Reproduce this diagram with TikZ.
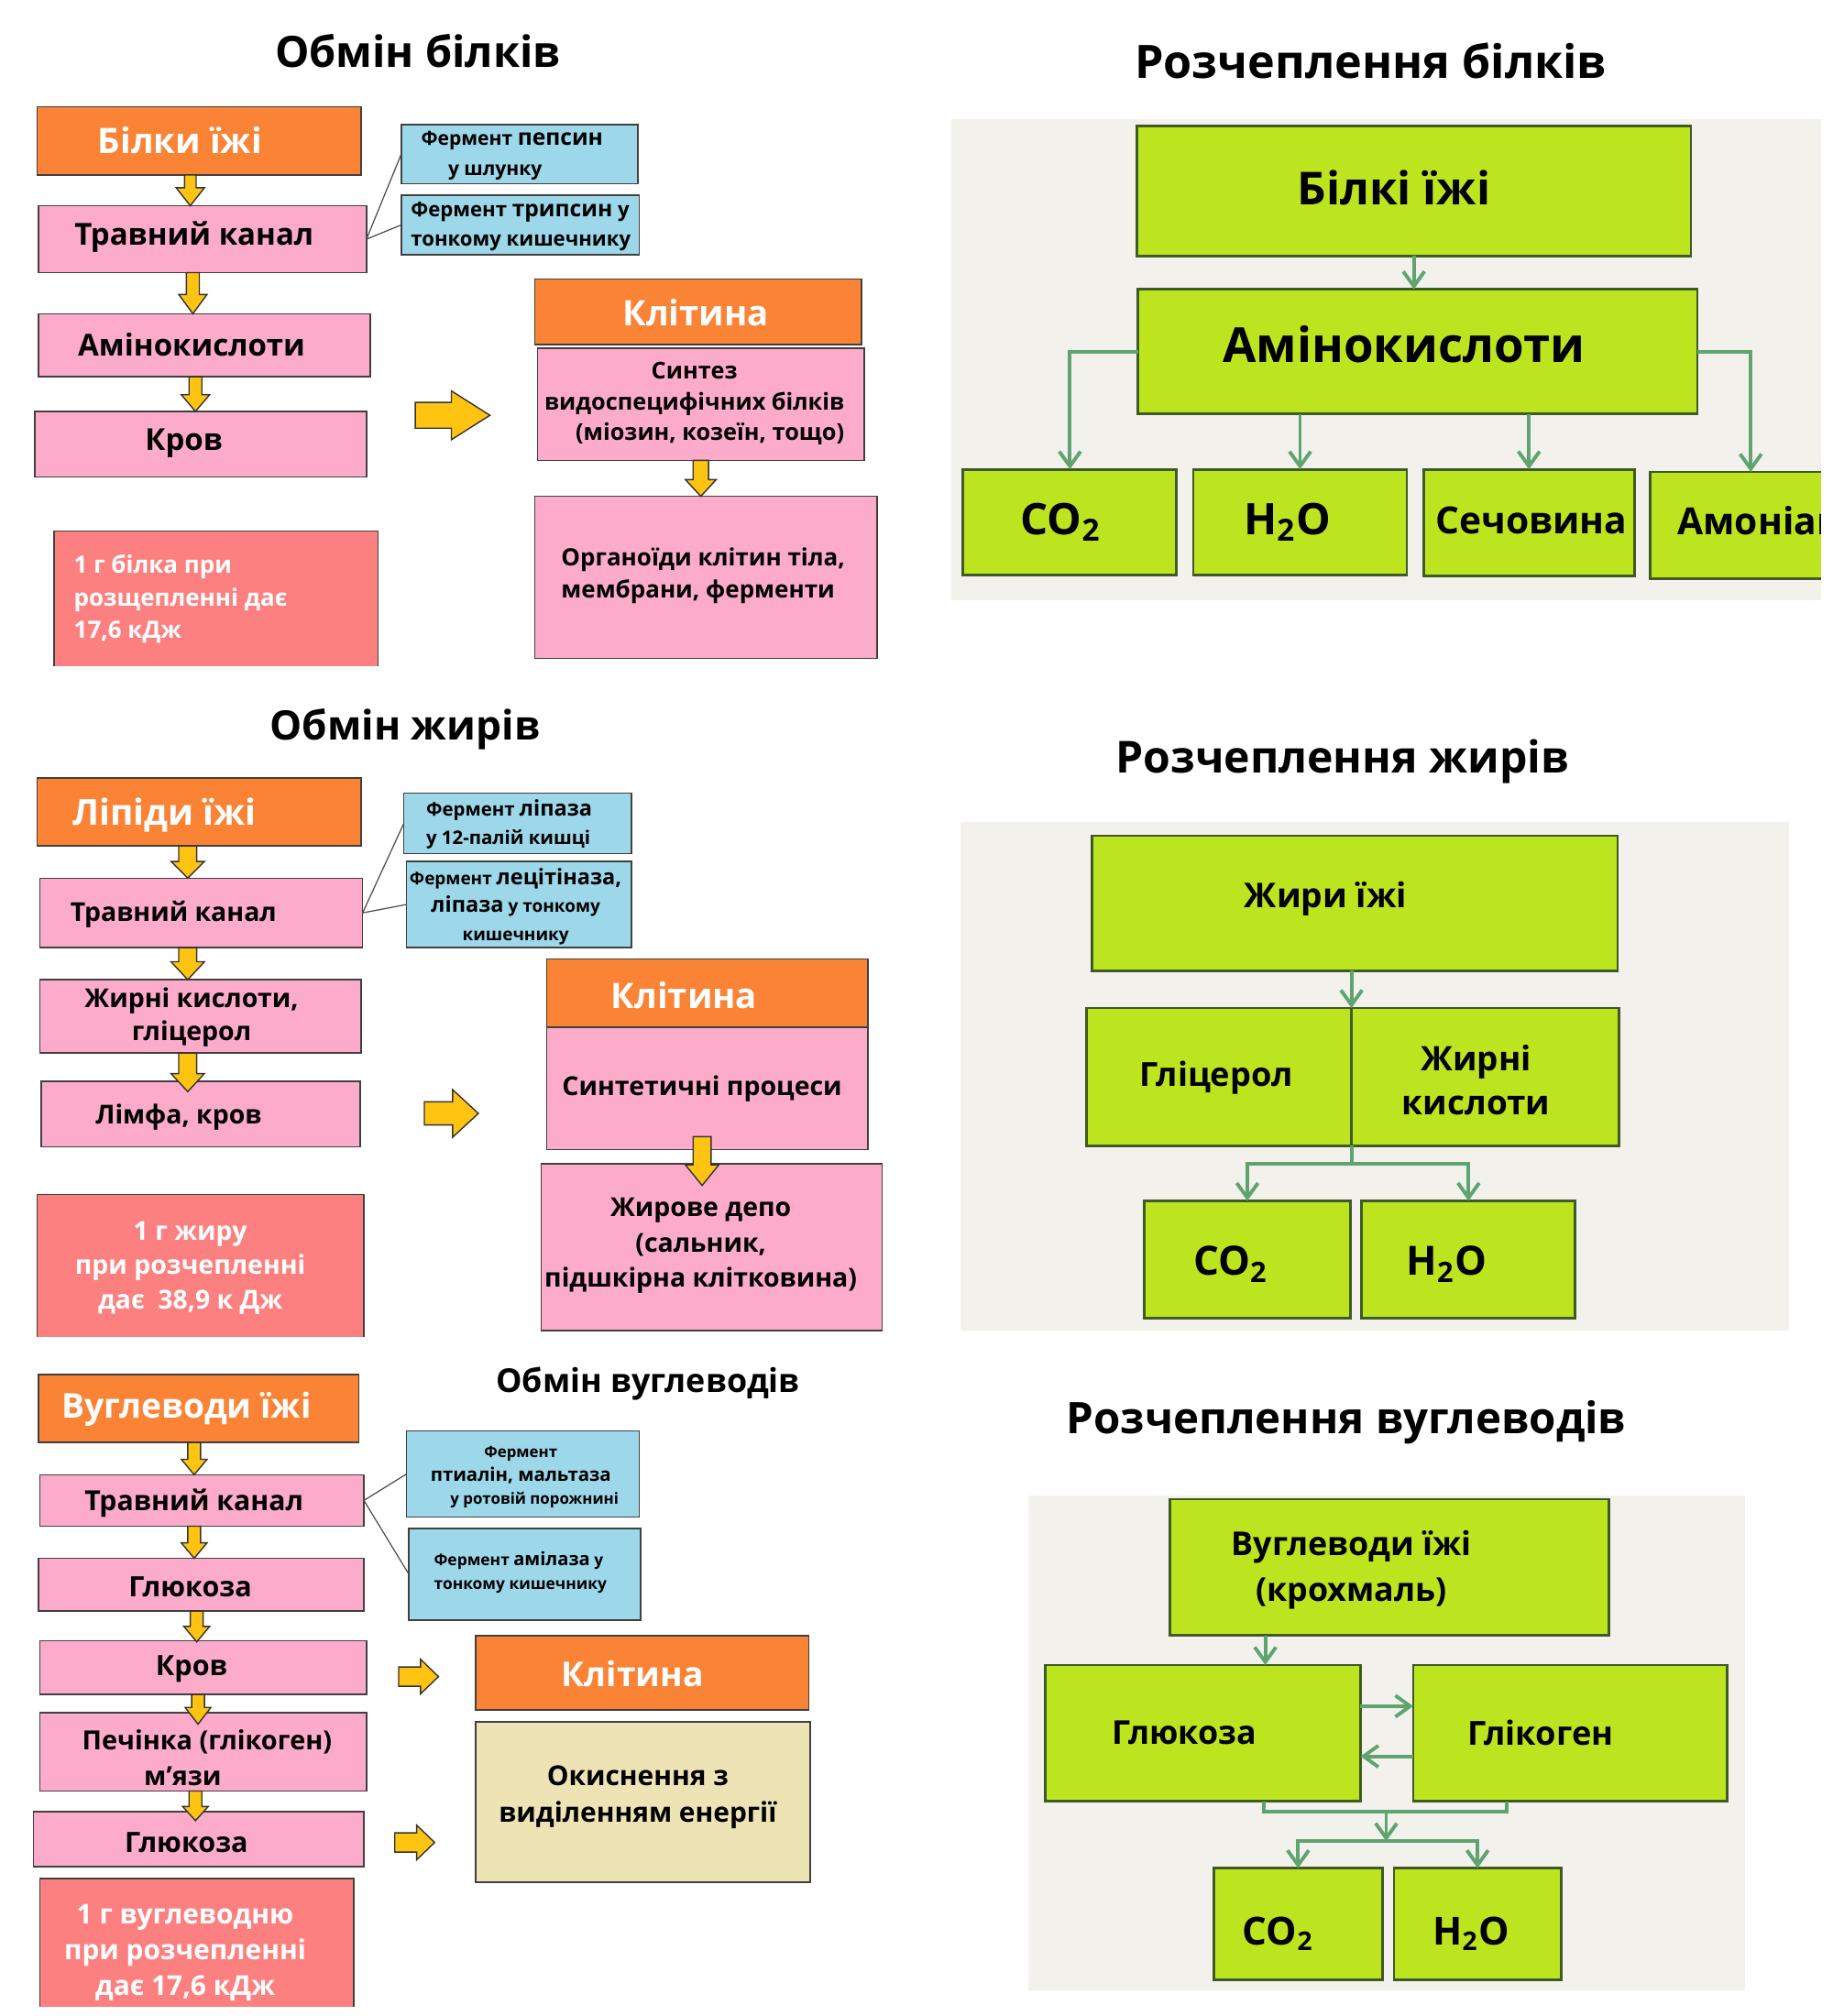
\documentclass[tikz,border=0pt]{standalone}
\usepackage{fontspec}
\setmainfont{Open Sans}
\usetikzlibrary{arrows.meta,calc}

\definecolor{orangeC}{HTML}{FB8336}
\definecolor{pinkC}{HTML}{FDABCA}
\definecolor{blueC}{HTML}{9CD8EA}
\definecolor{salmonC}{HTML}{FD8080}
\definecolor{beigeC}{HTML}{EEE3B4}
\definecolor{yelC}{HTML}{FFC312}
\definecolor{grnC}{HTML}{BDE51F}
\definecolor{grnLine}{HTML}{5FA470}
\definecolor{grnEdge}{HTML}{3F5A24}
\definecolor{panelC}{HTML}{F2F1EC}

\newcommand{\pxl}{0.14035mm}
\newcommand{\fsz}[2]{\bfseries\fontsize{#1pt}{#2pt}\selectfont}
\newcommand{\hl}[2]{{\fontsize{#1pt}{\baselineskip}\selectfont #2}}
% box from its corners
\newcommand{\bx}[6]{\node[#1, minimum width={(#5-#3)*\pxl}, minimum height={(#6-#4)*\pxl}] (#2) at ({(#3+#5)/2},{(#4+#6)/2}) {};}
% yellow block arrows: start, shaft, head, shaft half, head half
\newcommand{\blkdown}[5]{\filldraw[yblk] #1 ++(-#4,0) -- ++(0,#2) -- ++({#4-#5},0) -- ++(#5,#3) -- ++(#5,-#3) -- ++({#4-#5},0) -- ++(0,-#2) -- cycle;}
\newcommand{\blkright}[5]{\filldraw[yblk] #1 ++(0,-#4) -- ++(#2,0) -- ++(0,{#4-#5}) -- ++(#3,#5) -- ++(-#3,#5) -- ++(0,{#4-#5}) -- ++(-#2,0) -- cycle;}

\tikzset{
  box/.style={draw=black!75, line width=0.45pt, inner sep=0pt, outer sep=0pt},
  obox/.style={box, fill=orangeC},
  pbox/.style={box, fill=pinkC},
  bbox/.style={box, fill=blueC},
  ybox/.style={box, fill=beigeC},
  rbox/.style={fill=salmonC, inner sep=0pt, outer sep=0pt},
  gbox/.style={draw=grnEdge, line width=0.8pt, fill=grnC, inner sep=0pt, outer sep=0pt},
  txt/.style={inner sep=0pt},
  edge3/.style={draw=black!75, line width=0.45pt},
  yblk/.style={fill=yelC, draw=black!80, line width=0.4pt},
  lnk/.style={draw=black!70, line width=0.35pt},
  gln/.style={draw=grnLine, line width=1.1pt},
  garr/.style={gln, -{Straight Barb[length=4.6pt,width=6.6pt]}}
}

\begin{document}
\begin{tikzpicture}[x=0.14035mm,y=-0.14035mm]
  \useasboundingbox (0,0) rectangle (1425,1568);

  % ---------- Обмін білків
  \node[txt, font=\fsz{13.4}{16}] (ttl1) at (325,40) {Обмін білків};
  \bx{obox}{bilky}{29}{83}{281}{136}
  \bx{pbox}{trav1}{30}{160}{285}{212}
  \bx{pbox}{amino1}{30}{244}{288}{293}
  \bx{pbox}{krov1}{27}{320}{285}{371}
  \node[txt, white, font=\fsz{10.9}{13}] (bilky-t) at (140,109) {Білки їжі};
  \node[txt, font=\fsz{9.4}{11}] (trav1-t) at (151,184) {Травний канал};
  \node[txt, font=\fsz{9.4}{11}] (amino1-t) at (149,268) {Амінокислоти};
  \node[txt, font=\fsz{9.4}{11}] (krov1-t) at (143,345) {Кров};
  \blkdown{(bilky.south -| 148,0)}{10}{14}{4.5}{11}
  \blkdown{(trav1.south -| 150,0)}{17}{15}{5}{11}
  \blkdown{(amino1.south -| 152,0)}{14}{13}{5}{11}

  \bx{bbox}{pep}{312}{97}{496}{143}
  \bx{bbox}{tryp}{312}{152}{497}{198}
  \node[txt, anchor=west, align=left, font=\fsz{6}{9.2}] (pep-t) at (327,121)
    {Фермент \hl{7}{пепсин}\\\hspace*{2.95mm}у шлунку};
  \node[txt, anchor=west, align=left, font=\fsz{6.3}{9.2}] (tryp-t) at (319,176)
    {Фермент \hl{7}{трипсин} у\\тонкому кишечнику};
  \draw[lnk] (trav1.east) -- (pep.west);
  \draw[lnk] (trav1.east) -- (tryp.west);

  \coordinate (ar1) at (323,323);
  \blkright{(ar1)}{28}{30}{10}{19}

  \bx{obox}{cell1}{416}{217}{670}{268}
  \bx{pbox}{synt1}{418}{271}{672}{358}
  \bx{pbox}{org1}{416}{386}{682}{512}
  \node[txt, white, font=\fsz{10.9}{13}] (cell1-t) at (541,243) {Клітина};
  \node[txt, align=center, font=\fsz{7.2}{9.6}] (synt1-t) at (540,314)
    {Синтез\\видоспецифічних білків\\\hspace*{3.4mm}(міозин, козеїн, тощо)};
  \blkdown{(synt1.south -| 545,0)}{15}{13}{6}{12}
  \node[txt, anchor=west, align=left, font=\fsz{7.4}{10}] (org1-t) at (436,448)
    {Органоїди клітин тіла,\\мембрани, ферменти};

  \bx{rbox}{kj1}{42}{413}{294}{518}
  \draw[edge3] (kj1.south west) -- (kj1.north west) -- (kj1.north east) -- (kj1.south east);
  \node[txt, white, anchor=west, align=left, font=\fsz{7.4}{10.1}] (kj1-t) at (57,466)
    {1 г білка при\\розщепленні дає\\17,6 кДж};

  % ---------- Розчеплення білків
  \begin{scope}
    \clip (0,0) rectangle (1416,1568);
    \fill[panelC] (740,93) rectangle (1425,467);
    \node[txt, font=\fsz{14.3}{17}] (ttl2) at (1066,47) {Розчеплення білків};
    \bx{gbox}{gbil}{884}{98}{1315}{199}
    \bx{gbox}{gami}{885}{225}{1320}{322}
    \bx{gbox}{gco}{749}{365}{915}{447}
    \bx{gbox}{gho}{928}{365}{1094}{447}
    \bx{gbox}{gsech}{1107}{365}{1271}{448}
    \bx{gbox}{gamon}{1283}{367}{1440}{450}
    \node[txt, font=\fsz{14.1}{17}] (gbil-t) at (1084,146) {Білкі їжі};
    \node[txt, font=\fsz{15}{18}] (gami-t) at (1092,268) {Амінокислоти};
    \node[txt, font=\fsz{13.5}{16}] (gco-t) at (825,406) {CO\textsubscript{2}};
    \node[txt, font=\fsz{13.5}{16}] (gho-t) at (1001,406) {H\textsubscript{2}O};
    \node[txt, font=\fsz{11.6}{14}] (gsech-t) at (1191,405) {Сечовина};
    \node[txt, anchor=west, font=\fsz{11.6}{14}] (gamon-t) at (1304,405) {Амоніак};
    \draw[garr] (gbil.south) -- (gbil.south |- gami.north);
    \draw[garr] (gami.west) -| (gco.north);
    \draw[garr] (gami.east) -| (gamon.north);
    \draw[garr] (gho.north |- gami.south) -- (gho.north);
    \draw[garr] (gsech.north |- gami.south) -- (gsech.north);
  \end{scope}

  % ---------- Обмін жирів
  \node[txt, font=\fsz{12.6}{15}] (ttl3) at (315,567) {Обмін жирів};
  \bx{obox}{lip}{29}{605}{281}{658}
  \bx{pbox}{trav2}{31}{683}{282}{737}
  \bx{pbox}{fat2}{31}{762}{281}{819}
  \bx{pbox}{lymf}{32}{841}{280}{892}
  \node[txt, white, font=\fsz{11.1}{13}] (lip-t) at (128,634) {Ліпіди їжі};
  \node[txt, font=\fsz{8.1}{10}] (trav2-t) at (135,711) {Травний канал};
  \node[txt, align=center, font=\fsz{8.1}{10.3}] (fat2-t) at (149,791) {Жирні кислоти,\\гліцерол};
  \node[txt, font=\fsz{8.1}{10}] (lymf-t) at (139,869) {Лімфа, кров};
  \blkdown{(lip.south -| 146,0)}{12}{13}{7}{13}
  \blkdown{(trav2.south -| 146,0)}{11}{14}{7}{13}
  \blkdown{(fat2.south -| 146,0)}{16}{14}{7}{13}

  \bx{bbox}{lipaz}{314}{617}{491}{664}
  \bx{bbox}{lecit}{316}{670}{491}{737}
  \node[txt, anchor=west, align=left, font=\fsz{5.8}{8.8}] (lipaz-t) at (331,641)
    {Фермент \hl{6.7}{ліпаза}\\у 12-палій кишці};
  \node[txt, align=center, font=\fsz{5.4}{8.6}] (lecit-t) at (401,705)
    {Фермент \hl{6.7}{лецітіназа,}\\\hl{6.7}{ліпаза} у тонкому\\кишечнику};
  \draw[lnk] (trav2.east) -- (lipaz.west);
  \draw[lnk] (trav2.east) -- (lecit.west);

  \coordinate (ar2) at (330,866);
  \blkright{(ar2)}{22}{20}{9}{18.5}

  \bx{obox}{cell2}{425}{746}{675}{799}
  \bx{pbox}{synt2}{425}{799}{675}{894}
  \bx{pbox}{depo}{421}{905}{686}{1035}
  \node[txt, white, font=\fsz{10.9}{13}] (cell2-t) at (532,774) {Клітина};
  \node[txt, font=\fsz{8.1}{10}] (synt2-t) at (546,847) {Синтетичні процеси};
  \coordinate (ad2) at (546,884);
  \blkdown{(ad2)}{22}{16}{7}{13}
  \node[txt, align=center, font=\fsz{8.1}{11}] (depo-t) at (545,969)
    {Жирове депо\\(сальник,\\підшкірна клітковина)};

  \bx{rbox}{kj2}{29}{929}{283}{1040}
  \draw[edge3] (kj2.south west) -- (kj2.north west) -- (kj2.north east) -- (kj2.south east);
  \node[txt, white, align=center, font=\fsz{8.1}{10.7}] (kj2-t) at (148,986)
    {1 г жиру\\при розчепленні\\дає\enspace 38,9 к Дж};

  % ---------- Розчеплення жирів
  \fill[panelC] (747,639) rectangle (1391,1035);
  \node[txt, font=\fsz{13.7}{16}] (ttl4) at (1044,592) {Розчеплення жирів};
  \bx{gbox}{gzhy}{849}{650}{1258}{755}
  \bx{gbox}{ggli}{845}{784}{1051}{891}
  \bx{gbox}{gkys}{1051}{784}{1259}{891}
  \bx{gbox}{gco2}{890}{934}{1050}{1025}
  \bx{gbox}{gho2}{1059}{934}{1225}{1025}
  \node[txt, font=\fsz{10.6}{13}] (gzhy-t) at (1031,699) {Жири їжі};
  \node[txt, font=\fsz{10.3}{13}] (ggli-t) at (946,838) {Гліцерол};
  \node[txt, align=center, font=\fsz{10.5}{13.9}] (gkys-t) at (1148,840) {Жирні\\кислоти};
  \node[txt, font=\fsz{12.5}{15}] (gco2-t) at (957,983) {CO\textsubscript{2}};
  \node[txt, font=\fsz{12.5}{15}] (gho2-t) at (1125,983) {H\textsubscript{2}O};
  \draw[garr] (gzhy.south -| ggli.east) -- (ggli.north east);
  \coordinate (jn2) at (1051,905);
  \draw[gln] (ggli.south east) -- (jn2);
  \draw[garr] (jn2) -| (gco2.north);
  \draw[garr] (jn2) -| (gho2.north);

  % ---------- Обмін вуглеводів
  \node[txt, font=\fsz{10.2}{12}] (ttl5) at (504,1076) {Обмін вуглеводів};
  \bx{obox}{vug}{30}{1069}{279}{1122}
  \bx{pbox}{trav3}{31}{1147}{283}{1187}
  \bx{pbox}{glu3}{30}{1212}{283}{1253}
  \bx{pbox}{krov3}{31}{1276}{285}{1318}
  \bx{pbox}{pech}{31}{1332}{285}{1393}
  \bx{pbox}{glu3b}{26}{1409}{283}{1452}
  \node[txt, white, font=\fsz{10.6}{13}] (vug-t) at (145,1096) {Вуглеводи їжі};
  \node[txt, font=\fsz{8.6}{10}] (trav3-t) at (151,1169) {Травний канал};
  \node[txt, font=\fsz{8.7}{10}] (glu3-t) at (148,1234) {Глюкоза};
  \node[txt, font=\fsz{8.7}{10}] (krov3-t) at (149,1298) {Кров};
  \node[txt, align=center, font=\fsz{8.2}{11.1}] (pech-t) at (161,1367)
    {Печінка (глікоген)\\\hspace*{-5.3mm}м\symbol{39}язи};
  \node[txt, font=\fsz{8.7}{10}] (glu3b-t) at (145,1433) {Глюкоза};
  \blkdown{(vug.south -| 151,0)}{13}{12}{5}{10}
  \blkdown{(trav3.south -| 151,0)}{13}{12}{5}{10}
  \blkdown{(glu3.south -| 153,0)}{12}{12}{5}{10}
  \blkdown{(krov3.south -| 154,0)}{10}{13}{5}{10}
  \blkdown{(pech.south -| 152,0)}{12}{11}{5}{10}

  \bx{bbox}{ptial}{316}{1113}{497}{1180}
  \bx{bbox}{amil}{318}{1189}{498}{1260}
  \node[txt, align=center, font=\fsz{4.8}{7.2}] (ptial-t) at (405,1149)
    {Фермент\\\hl{5.8}{птиалін, мальтаза}\\\hspace*{3mm}у ротовій порожнині};
  \node[txt, anchor=west, align=left, font=\fsz{4.95}{7.6}] (amil-t) at (337,1223)
    {Фермент \hl{5.7}{амілаза} у\\тонкому кишечнику};
  \draw[lnk] (trav3.east) -- (ptial.west);
  \draw[lnk] (trav3.east) -- (amil.west);

  \coordinate (ar3a) at (310,1304);
  \coordinate (ar3b) at (307,1433);
  \blkright{(ar3a)}{17}{14}{7.5}{13.5}
  \blkright{(ar3b)}{17}{14}{7.5}{13.5}

  \bx{obox}{cell3}{370}{1272}{629}{1330}
  \bx{ybox}{okys}{370}{1339}{630}{1464}
  \node[txt, white, font=\fsz{10.6}{13}] (cell3-t) at (492,1302) {Клітина};
  \node[txt, align=center, font=\fsz{8.5}{11.5}] (okys-t) at (496,1398)
    {Окиснення з\\виділенням енергії};

  \bx{rbox}{kj3}{31}{1461}{275}{1561}
  \draw[edge3] (kj3.south west) -- (kj3.north west) -- (kj3.north east) -- (kj3.south east);
  \node[txt, white, align=center, font=\fsz{8.5}{11.1}] (kj3-t) at (144,1519)
    {1 г вуглеводню\\при розчепленні\\дає 17,6 кДж};

  % ---------- Розчеплення вуглеводів
  \fill[panelC] (800,1163) rectangle (1357,1548);
  \node[txt, font=\fsz{13.5}{16}] (ttl6) at (1047,1106) {Розчеплення вуглеводів};
  \bx{gbox}{gvug}{910}{1166}{1251}{1272}
  \bx{gbox}{gglu}{813}{1295}{1058}{1401}
  \bx{gbox}{gglk}{1099}{1295}{1343}{1401}
  \bx{gbox}{gco3}{944}{1453}{1075}{1540}
  \bx{gbox}{gho3}{1084}{1453}{1214}{1540}
  \node[txt, align=center, font=\fsz{10.2}{14}] (gvug-t) at (1051,1221) {Вуглеводи їжі\\(крохмаль)};
  \node[txt, font=\fsz{10.2}{13}] (gglu-t) at (921,1348) {Глюкоза};
  \node[txt, font=\fsz{10.3}{13}] (gglk-t) at (1198,1348) {Глікоген};
  \node[txt, font=\fsz{12}{15}] (gco3-t) at (994,1504) {CO\textsubscript{2}};
  \node[txt, font=\fsz{12}{15}] (gho3-t) at (1144,1504) {H\textsubscript{2}O};
  \draw[garr] (gvug.south -| 984,0) -- (gglu.north -| 984,0);
  \draw[garr] (gglu.east |- 0,1327) -- (gglk.west |- 0,1327);
  \draw[garr] (gglk.west |- 0,1366) -- (gglu.east |- 0,1366);
  \coordinate (br3) at (1078,1409);
  \coordinate (jn3) at (1078,1432);
  \draw[gln] (gglu.south -| 983,0) |- (br3) -| (gglk.south -| 1172,0);
  \draw[garr] (br3) -- (jn3);
  \draw[garr] (jn3) -| (gco3.north);
  \draw[garr] (jn3) -| (gho3.north);
\end{tikzpicture}
\end{document}
